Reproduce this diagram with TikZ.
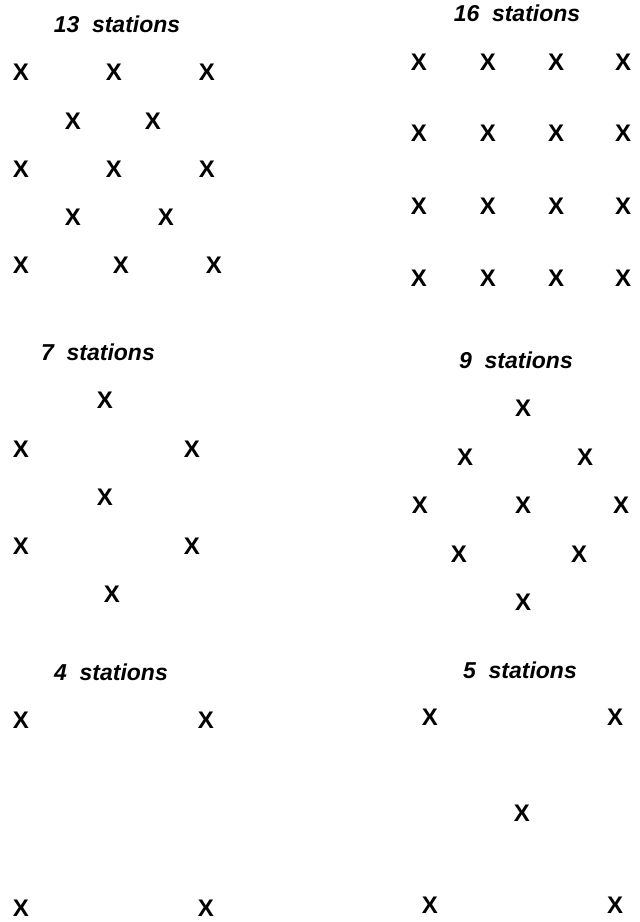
\documentclass[tikz,border=0pt]{standalone}
\usepackage{fontspec}
\setmainfont{Liberation Sans}
\usepackage{tikz}

\begin{document}
\begin{tikzpicture}[x=1pt,y=-1pt,
  stn/.style={inner sep=0pt,font=\fontsize{24}{24}\selectfont\bfseries},
  ttl/.style={inner sep=0pt,font=\fontsize{23}{23}\selectfont\bfseries\itshape}]
\useasboundingbox (0,0) rectangle (640,922);
% 13 stations
\node[ttl] (t13) at (117,24) {13\hspace{0.55em}stations};
\foreach \x/\y/\n in {21/72/1,114/72/2,207/72/3,73/121/4,153/121/5,21/169/6,114/169/7,207/169/8,73/217/9,166/217/10,21/265/11,121/265/12,214/265/13}
  \node[stn] (a\n) at (\x,\y) {X};
% 16 stations
\node[ttl] (t16) at (517,13) {16\hspace{0.55em}stations};
\foreach \x [count=\i] in {419,488,556,623}
  \foreach \y [count=\j] in {62,133,206,278}
    \node[stn] (b\i\j) at (\x,\y) {X};
% 7 stations
\node[ttl] (t7) at (98,352) {7\hspace{0.55em}stations};
\foreach \x/\y/\n in {105/400/1,21/449/2,192/449/3,105/497/4,21/546/5,192/546/6,112/594/7}
  \node[stn] (c\n) at (\x,\y) {X};
% 9 stations
\node[ttl] (t9) at (516,360) {9\hspace{0.55em}stations};
\foreach \x/\y/\n in {523/408/1,465/457/2,585/457/3,420/505/4,523/505/5,621/505/6,459/554/7,579/554/8,523/602/9}
  \node[stn] (d\n) at (\x,\y) {X};
% 4 stations
\node[ttl] (t4) at (111,672) {4\hspace{0.55em}stations};
\foreach \x/\y/\n in {21/720/1,206/720/2,21/908/3,206/908/4}
  \node[stn] (e\n) at (\x,\y) {X};
% 5 stations
\node[ttl] (t5) at (520,670) {5\hspace{0.55em}stations};
\foreach \x/\y/\n in {430/717/1,615/717/2,522/813/3,430/905/4,615/905/5}
  \node[stn] (f\n) at (\x,\y) {X};
\end{tikzpicture}
\end{document}
